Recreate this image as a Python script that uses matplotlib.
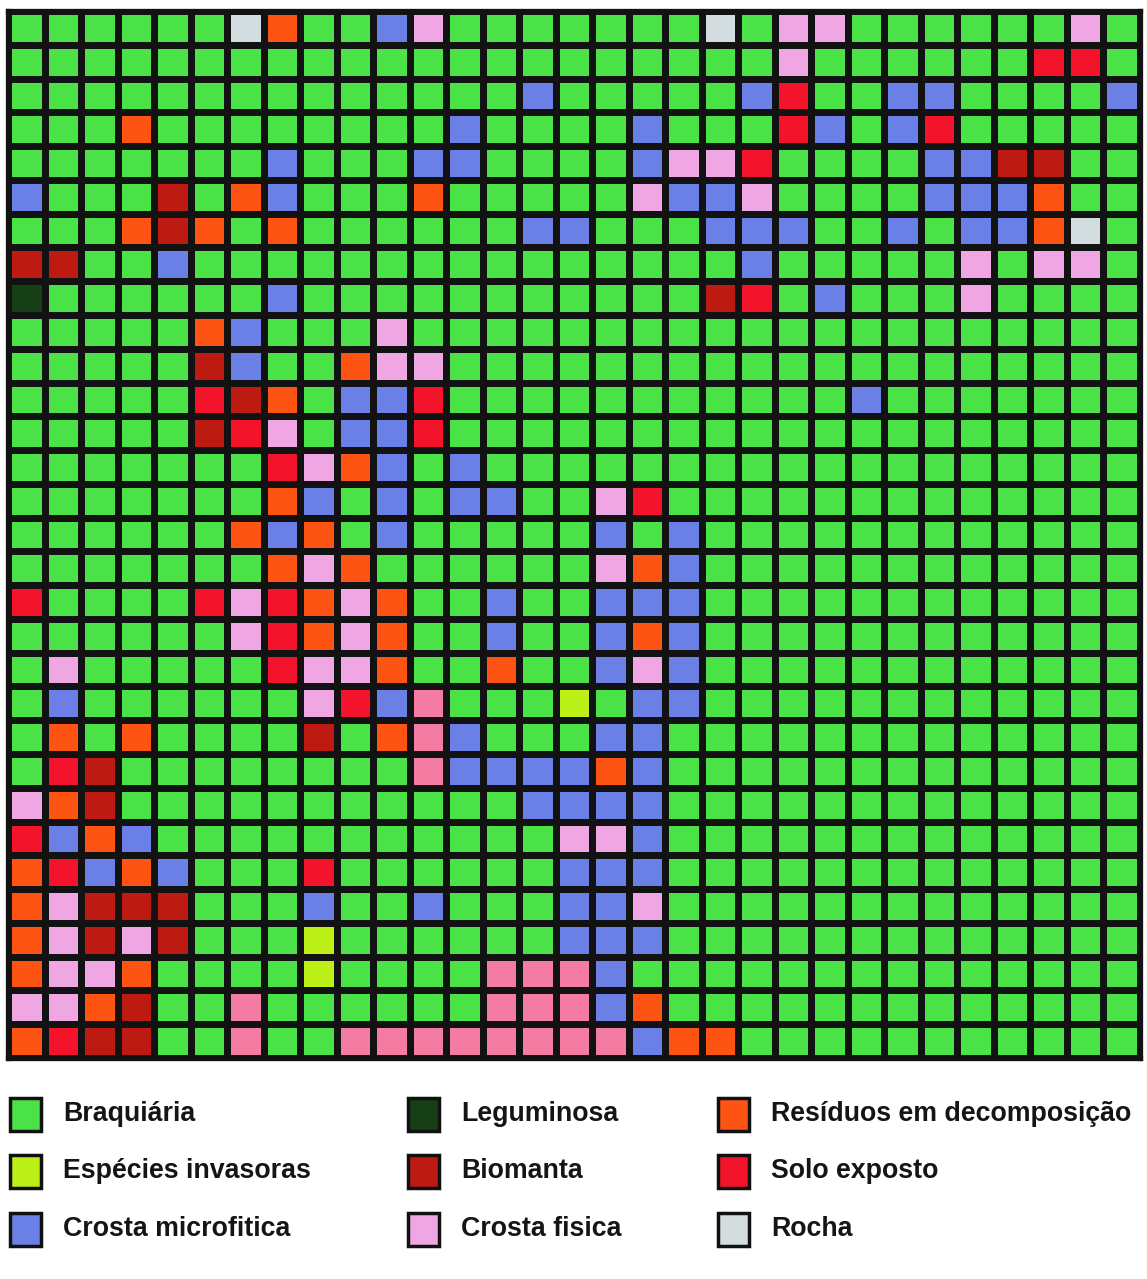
import matplotlib
matplotlib.use("Agg")
import matplotlib.pyplot as plt
import numpy as np
from matplotlib.colors import ListedColormap
from matplotlib.patches import Rectangle

# ---- data -------------------------------------------------------------
codes = ["G", "I", "B", "L", "M", "P", "O", "R", "K", "H"]
labels = ["Braquiária", "Espécies invasoras", "Crosta microfitica",
          "Leguminosa", "Biomanta", "Crosta fisica",
          "Resíduos em decomposição", "Solo exposto", "Rocha", None]
colors = ["#4ae246", "#bcf016", "#6a80e6",
          "#173f17", "#bd1a14", "#efa7e4",
          "#fd5414", "#f3142b", "#d3dde0", "#f47ca2"]

grid_rows = [
    "GGGGGGKOGGBPGGGGGGGKGPPGGGGGGPG",
    "GGGGGGGGGGGGGGGGGGGGGPGGGGGGRRG",
    "GGGGGGGGGGGGGGBGGGGGBRGGBBGGGGB",
    "GGGOGGGGGGGGBGGGGBGGGRBGBRGGGGG",
    "GGGGGGGBGGGBBGGGGBPPRGGGGBBMMGG",
    "BGGGMGOBGGGOGGGGGPBBPGGGGBBBOGG",
    "GGGOMOGOGGGGGGBBGGGBBBGGBGBBOKG",
    "MMGGBGGGGGGGGGGGGGGGBGGGGGPGPPG",
    "LGGGGGGBGGGGGGGGGGGMRGBGGGPGGGG",
    "GGGGGOBGGGPGGGGGGGGGGGGGGGGGGGG",
    "GGGGGMBGGOPPGGGGGGGGGGGGGGGGGGG",
    "GGGGGRMOGBBRGGGGGGGGGGGBGGGGGGG",
    "GGGGGMRPGBBRGGGGGGGGGGGGGGGGGGG",
    "GGGGGGGRPOBGBGGGGGGGGGGGGGGGGGG",
    "GGGGGGGOBGBGBBGGPRGGGGGGGGGGGGG",
    "GGGGGGOBOGBGGGGGBGBGGGGGGGGGGGG",
    "GGGGGGGOPOGGGGGGPOBGGGGGGGGGGGG",
    "RGGGGRPROPOGGBGGBBBGGGGGGGGGGGG",
    "GGGGGGPROPOGGBGGBOBGGGGGGGGGGGG",
    "GPGGGGGRPPOGGOGGBPBGGGGGGGGGGGG",
    "GBGGGGGGPRBHGGGIGBBGGGGGGGGGGGG",
    "GOGOGGGGMGOHBGGGBBGGGGGGGGGGGGG",
    "GRMGGGGGGGGHBBBBOBGGGGGGGGGGGGG",
    "POMGGGGGGGGGGGBBBBGGGGGGGGGGGGG",
    "RBOBGGGGGGGGGGGPPBGGGGGGGGGGGGG",
    "ORBOBGGGRGGGGGGBBBGGGGGGGGGGGGG",
    "OPMMMGGGBGGBGGGBBPGGGGGGGGGGGGG",
    "OPMPMGGGIGGGGGGBBBGGGGGGGGGGGGG",
    "OPPOGGGGIGGGGHHHBGGGGGGGGGGGGGG",
    "PPOMGGHGGGGGGHHHBOGGGGGGGGGGGGG",
    "ORMMGGHGGHHHHHHHHBOOGGGGGGGGGGG",
]

# ---- figure -----------------------------------------------------------
W, H = 1147, 1279
fig = plt.figure(figsize=(W / 100, H / 100), dpi=100)
fig.patch.set_facecolor("white")

idx = {c: i for i, c in enumerate(codes)}
mat = np.array([[idx[ch] for ch in row] for row in grid_rows])
nrows, ncols = mat.shape

left_px, right_px, top_px, bot_px = 8, 1140, 11, 1058
ax = fig.add_axes([left_px / W, 1 - bot_px / H,
                   (right_px - left_px) / W, (bot_px - top_px) / H])
cmap = ListedColormap(colors)
ax.pcolormesh(np.arange(ncols + 1), np.arange(nrows + 1), mat,
              cmap=cmap, vmin=-0.5, vmax=len(colors) - 0.5,
              edgecolors="#121212", linewidth=3.8)
ax.set_xlim(0, ncols)
ax.set_ylim(nrows, 0)
ax.set_xticks([])
ax.set_yticks([])
for s in ax.spines.values():
    s.set_linewidth(3.8)
    s.set_color("#121212")

# ---- legend -----------------------------------------------------------
lax = fig.add_axes([0, 0, 1, 1], zorder=5)
lax.set_xlim(0, W)
lax.set_ylim(H, 0)
lax.axis("off")
lax.patch.set_alpha(0)

col_x = [10, 408, 718]
row_y = [1114, 1171, 1229]
box = 31
for k, (lab, colr) in enumerate(zip(labels, colors)):
    if lab is None:
        continue
    c, r = divmod(k, 3)
    x0, yc = col_x[c], row_y[r]
    lax.add_patch(Rectangle((x0, yc - box / 2 - 1), box, box + 2,
                            facecolor=colr, edgecolor="#111111", linewidth=2.5))
    lax.text(x0 + 53, yc, lab, fontsize=19.3, fontweight="bold",
             family=["Liberation Sans", "DejaVu Sans"], color="#151515",
             va="center", ha="left")

fig.savefig("out.png", dpi=100, facecolor="white")
